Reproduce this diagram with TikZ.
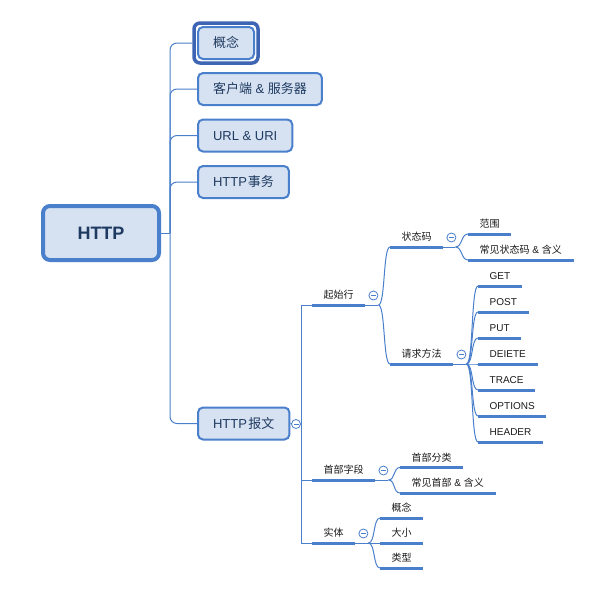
\documentclass[tikz,border=0pt]{standalone}
\usepackage{fontspec}
\setmainfont{Liberation Sans}
\newfontfamily\cjk{Noto Sans CJK SC}
\usetikzlibrary{fit}
\definecolor{lnblue}{HTML}{4A7FCB}
\definecolor{boxfill}{HTML}{D6E2F2}
\definecolor{boxtext}{HTML}{1F3A60}
\definecolor{selblue}{HTML}{3E64B4}
\definecolor{leaftext}{HTML}{1A1A1A}
\tikzset{
  box/.style={draw=lnblue, line width=2pt, fill=boxfill, rounded corners=5pt,
    text=boxtext, font=\fontsize{13}{15}\selectfont, inner xsep=15pt, inner ysep=0pt,
    text height=10.3pt, text depth=1pt, minimum height=32pt, anchor=west},
  rootbox/.style={draw=lnblue, line width=4pt, fill=boxfill, rounded corners=7pt,
    text=boxtext, font=\bfseries\fontsize{18}{20}\selectfont, text height=13.9pt, text depth=1pt,
    minimum width=116pt, minimum height=54pt},
  selframe/.style={draw=selblue, line width=3.5pt, rounded corners=6pt, inner sep=3pt},
  uline/.style={draw=lnblue, line width=3pt},
  topic/.style={anchor=south west, inner xsep=11.5pt, inner ysep=4pt, text height=8pt,
    text depth=2pt, font=\fontsize{10}{12}\selectfont, text=leaftext,
    append after command={(\tikzlastnode.south west) edge[uline] (\tikzlastnode.south east)}},
  conn/.style={draw=lnblue, line width=1pt},
  collapse/.style={circle, draw=lnblue, line width=0.8pt, fill=white, minimum size=9pt, inner sep=0pt,
    path picture={\draw[lnblue, line width=0.8pt]
      ([xshift=-2.5pt]path picture bounding box.center) -- ([xshift=2.5pt]path picture bounding box.center);}},
}
\begin{document}
\begin{tikzpicture}[x=1pt,y=-1pt]
\useasboundingbox (0,0) rectangle (601,592);

% root and first level
\node[rootbox] (root) at (101,233) {HTTP};
\coordinate (tr) at (170,233);
\node[box] (gn) at (197,43) {\cjk 概念};
\node[selframe, fit=(gn)] (gnsel) {};
\node[box] (cs) at (197,89) {{\cjk 客户端} \& {\cjk 服务器}};
\node[box] (url) at (197,135.5) {URL \& URI};
\node[box] (tx) at (197,182) {HTTP\kern1pt{\cjk 事务}};
\node[box] (bw) at (197,423.5) {HTTP\kern1.5pt{\cjk 报文}};

\draw[conn, rounded corners=7pt] (gnsel.west) -| (tr) |- (bw.west);
\draw[conn, rounded corners=7pt] (cs.west) -| (tr);
\draw[conn, rounded corners=7pt] (url.west) -| (tr);
\draw[conn, rounded corners=7pt] (tx.west) -| (tr);
\draw[conn] (root.east) -- (tr);

% HTTP 报文
\coordinate (t2) at (301,424);
\draw[conn] (bw.east) -- (t2);
\node[collapse] (cbw) at (296,424) {};

\node[topic] (qs) at (312,305) {\cjk 起始行};
\node[topic] (sb) at (312,480) {\cjk 首部字段};
\node[topic] (st) at (312,543) {\cjk 实体};
\draw[conn] (t2) |- (qs.south west);
\draw[conn] (t2) |- (sb.south west);
\draw[conn] (t2) |- (st.south west);

% 起始行
\coordinate (f1) at ([xshift=13pt]qs.south east);
\draw[conn] (qs.south east) -- (f1);
\node[collapse] (cqs) at ([xshift=8pt,yshift=9.5pt]qs.south east) {};
\node[topic] (zt) at (390,247) {\cjk 状态码};
\node[topic] (qf) at (390,364) {\cjk 请求方法};
\foreach \c in {zt,qf} \draw[conn] (f1) .. controls +(7,0) and +(-7,0) .. (\c.south west);

% 状态码
\coordinate (f4) at ([xshift=12pt]zt.south east);
\draw[conn] (zt.south east) -- (f4);
\node[collapse] (czt) at ([xshift=8pt,yshift=9.5pt]zt.south east) {};
\node[topic] (fw) at (468,234) {\cjk 范围};
\node[topic] (cjz) at (468,260) {{\cjk 常见状态码} \& {\cjk 含义}};
\foreach \c in {fw,cjz} \draw[conn] (f4) .. controls +(7,0) and +(-7,0) .. (\c.south west);

% 请求方法
\coordinate (f5) at ([xshift=13pt]qf.south east);
\draw[conn] (qf.south east) -- (f5);
\node[collapse] (cqf) at ([xshift=8pt,yshift=9.5pt]qf.south east) {};
\node[topic] (mget) at (478,286) {GET};
\node[topic] (mpost) at (478,312) {POST};
\node[topic] (mput) at (478,338) {PUT};
\node[topic] (mdel) at (478,364) {DEIETE};
\node[topic] (mtr) at (478,390) {TRACE};
\node[topic] (mopt) at (478,416) {OPTIONS};
\node[topic] (mhead) at (478,442) {HEADER};
\foreach \c in {mget,mpost,mput,mdel,mtr,mopt,mhead}
  \draw[conn] (f5) .. controls +(7,0) and +(-7,0) .. (\c.south west);

% 首部字段
\coordinate (f2) at ([xshift=13pt]sb.south east);
\draw[conn] (sb.south east) -- (f2);
\node[collapse] (csb) at ([xshift=8pt,yshift=9.5pt]sb.south east) {};
\node[topic] (sbfl) at (400,467.5) {\cjk 首部分类};
\node[topic] (sbcj) at (400,493) {{\cjk 常见首部} \& {\cjk 含义}};
\foreach \c in {sbfl,sbcj} \draw[conn] (f2) .. controls +(7,0) and +(-7,0) .. (\c.south west);

% 实体
\coordinate (f3) at ([xshift=13pt]st.south east);
\draw[conn] (st.south east) -- (f3);
\node[collapse] (cst) at ([xshift=8pt,yshift=9.5pt]st.south east) {};
\node[topic] (stgn) at (380,518) {\cjk 概念};
\node[topic] (stdx) at (380,543) {\cjk 大小};
\node[topic] (stlx) at (380,568) {\cjk 类型};
\foreach \c in {stgn,stdx,stlx} \draw[conn] (f3) .. controls +(7,0) and +(-7,0) .. (\c.south west);
\end{tikzpicture}
\end{document}
